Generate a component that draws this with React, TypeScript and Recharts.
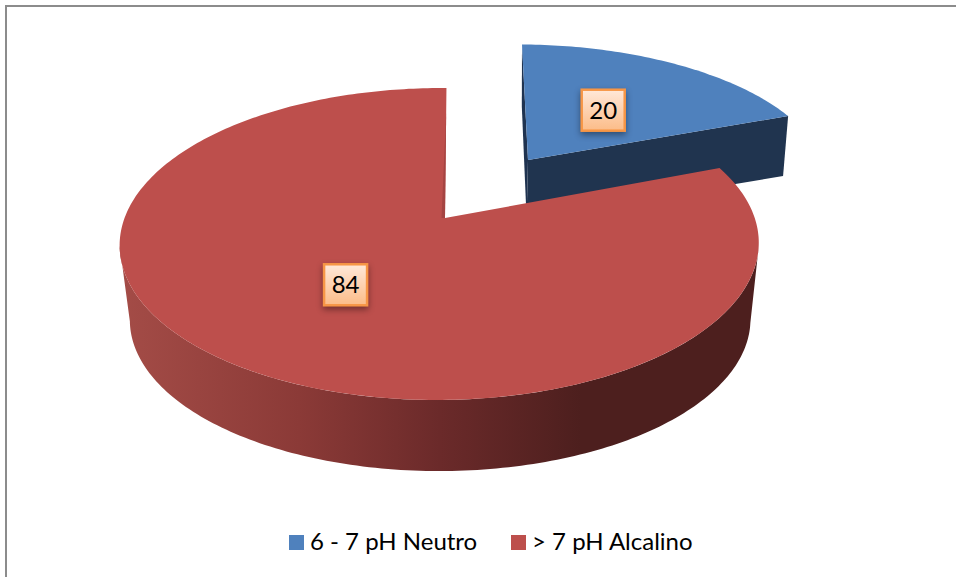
import React from "react";
import { PieChart, Pie, Legend } from "recharts";

// Sample counts per pH class
const categories = ["6 - 7 pH Neutro", "> 7 pH Alcalino"];
const counts = [20, 84];
const topColors = ["#4f81bd", "#bd4f4c"];

const slices = categories.map((name, i) => ({ name, value: counts[i], fill: topColors[i] }));

const PIE_R = 315;

type Plane = { dx: number; dy: number; sx: number; skew: number; sy: number; g: number; h: number };

// Projection of the unit disc onto the page for each slice: top and underside planes.
const topPlanes: Plane[] = [
  { dx: 83, dy: -58, sx: 0.955, skew: -6.9, sy: 0.422, g: 0.15, h: 0.02 },
  { dx: 0, dy: 0, sx: 1, skew: 1.7, sy: 0.4813, g: 0.1667, h: 0.017 },
];
const bottomPlanes: Plane[] = [
  { dx: 81.6, dy: 0.7, sx: 0.94, skew: -5.5, sy: 0.41, g: 0.15, h: 0.02 },
  { dx: 0.5, dy: 76.6, sx: 0.971, skew: 0, sy: 0.4667, g: 0.1667, h: 0.017 },
];
const labelRadius = [0.485, 0.51];
const labelNudgeY = [0, -2];

const project = (p: Plane, cx: number, cy: number, R: number, deg: number, rho = 1) => {
  const t = (deg * Math.PI) / 180;
  const u = rho * Math.cos(t);
  const v = rho * Math.sin(t);
  const w = 1 + p.g * v + p.h * u;
  return {
    x: cx + p.dx + (R * p.sx * u + p.skew * v) / w,
    y: cy + p.dy - (R * p.sy * v) / w,
  };
};

const arcPoints = (p: Plane, cx: number, cy: number, R: number, from: number, to: number) => {
  const n = Math.max(2, Math.ceil(Math.abs(to - from)));
  const pts: { x: number; y: number }[] = [];
  for (let i = 0; i <= n; i++) pts.push(project(p, cx, cy, R, from + ((to - from) * i) / n));
  return pts;
};

const toPath = (pts: { x: number; y: number }[]) =>
  "M" + pts.map((q) => `${q.x.toFixed(2)},${q.y.toFixed(2)}`).join("L") + "Z";

// A slice drawn as a tilted disc sector with its visible side walls.
const Slice3D = (props: any) => {
  const { cx, cy, outerRadius, startAngle, endAngle, fill, index } = props;
  const top = topPlanes[index];
  const bot = bottomPlanes[index];
  const hub = project(top, cx, cy, outerRadius, 0, 0);
  const hubLow = project(bot, cx, cy, outerRadius, 0, 0);
  const faceEdge = arcPoints(top, cx, cy, outerRadius, startAngle, endAngle);
  const face = toPath([hub, ...faceEdge]);

  if (index === 0) {
    const startTop = project(top, cx, cy, outerRadius, startAngle);
    const startLow = project(bot, cx, cy, outerRadius, startAngle);
    const endTop = project(top, cx, cy, outerRadius, endAngle);
    const endLow = project(bot, cx, cy, outerRadius, endAngle);
    return (
      <g>
        <path d={toPath([startTop, hub, hubLow, startLow])} fill="#1f3350" />
        <path d={toPath([hub, endTop, endLow, hubLow])} fill="#20344f" />
        <path d={face} fill={fill} />
      </g>
    );
  }

  // Outer rim of the large slice, from its right silhouette round the front to the left one.
  const rimFrom = -11;
  const rimTo = -170;
  const rimTop = arcPoints(top, cx, cy, outerRadius, rimFrom, rimTo);
  const rimLow = arcPoints(bot, cx, cy, outerRadius, rimFrom, rimTo).reverse();
  // Narrow shaded strip along the cut edge, fading toward the back of the disc.
  const cutAt = project(top, cx, cy, outerRadius, endAngle, 0.78);
  return (
    <g>
      <defs>
        <linearGradient id="rimShade" gradientUnits="userSpaceOnUse" x1="120" y1="0" x2="760" y2="0">
          <stop offset="0" stopColor="#a44c47" />
          <stop offset="0.28" stopColor="#8b3a37" />
          <stop offset="0.5" stopColor="#6b2a2a" />
          <stop offset="0.72" stopColor="#4d1f1e" />
          <stop offset="1" stopColor="#4d1f1e" />
        </linearGradient>
      </defs>
      <path d={toPath([...rimTop, ...rimLow])} fill="url(#rimShade)" />
      <path d={face} fill={fill} />
      <path d={toPath([cutAt, hub, { x: hub.x - 3.5, y: hub.y }])} fill="#a54442" />
    </g>
  );
};

// Value tag: orange-edged box with a soft shadow.
const ValueTag = (props: any) => {
  const { cx, cy, outerRadius, midAngle, value, index } = props;
  const at = project(topPlanes[index], cx, cy, outerRadius, midAngle, labelRadius[index]);
  const tagY = at.y + labelNudgeY[index];
  const w = 43;
  const h = 41;
  return (
    <g>
      <defs>
        <linearGradient id="tagFill" x1="0" y1="0" x2="0" y2="1">
          <stop offset="0" stopColor="#ffe8d9" />
          <stop offset="1" stopColor="#fcbc88" />
        </linearGradient>
      </defs>
      <rect
        x={at.x - w / 2}
        y={tagY - h / 2}
        width={w}
        height={h}
        fill="url(#tagFill)"
        stroke="#f79646"
        strokeWidth={2.5}
        style={{ filter: "drop-shadow(0px 3px 3px rgba(0,0,0,0.4))" }}
      />
      <text
        x={at.x}
        y={tagY + 8.5}
        textAnchor="middle"
        fontFamily="Lato, 'Noto Sans', sans-serif"
        fontSize={24}
        fill="#000"
      >
        {value}
      </text>
    </g>
  );
};

const LegendRow = ({ payload }: any) => (
  <div style={{ position: "relative", width: 956, height: 40, fontFamily: "Lato, 'Noto Sans', sans-serif", fontSize: 24, color: "#000" }}>
    {(payload || []).map((entry: any, i: number) => (
      <React.Fragment key={entry.value}>
        <span
          style={{
            position: "absolute",
            left: i === 0 ? 289 : 511,
            top: 15,
            width: 15,
            height: 15,
            background: topColors[i],
          }}
        />
        <span style={{ position: "absolute", left: i === 0 ? 310 : 532, top: 6, lineHeight: "30px", whiteSpace: "nowrap" }}>
          {entry.value}
        </span>
      </React.Fragment>
    ))}
  </div>
);

export default function App() {
  return (
    <div style={{ position: "absolute", left: 0, top: 0, width: 956, height: 577, background: "#fff", overflow: "hidden" }}>
      <div
        style={{
          position: "absolute",
          left: 5,
          top: 5,
          right: -5,
          bottom: -5,
          borderLeft: "2px solid #8c8c8c",
          borderTop: "2px solid #8c8c8c",
        }}
      />
      <PieChart
        width={956}
        height={577}
        margin={{ top: 0, right: 0, bottom: 0, left: 0 }}
        style={{ position: "absolute", left: 0, top: 0 }}
      >
        <Pie
          data={slices}
          dataKey="value"
          nameKey="name"
          cx={445}
          cy={218}
          outerRadius={PIE_R}
          startAngle={90}
          endAngle={-270}
          stroke="none"
          isAnimationActive={false}
          shape={Slice3D}
          label={ValueTag}
          labelLine={false}
        />
        <Legend
          content={<LegendRow />}
          wrapperStyle={{ position: "absolute", left: 0, top: 520, width: 956, height: 40 }}
        />
      </PieChart>
    </div>
  );
}
